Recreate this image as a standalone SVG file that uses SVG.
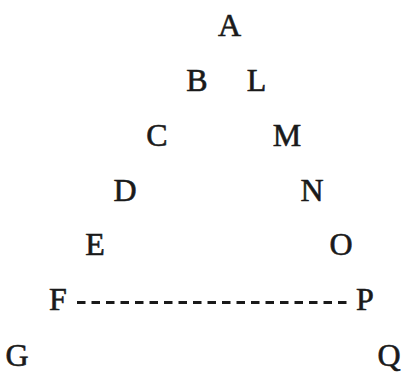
<svg xmlns="http://www.w3.org/2000/svg" width="402" height="372" viewBox="0 0 402 372">
<style>
.l{font-family:"Liberation Serif","Times New Roman",serif;font-size:32px;fill:#1a1a1a;stroke:#1a1a1a;stroke-width:0.6;text-anchor:middle}
.d{stroke:#1a1a1a;stroke-width:2.8;stroke-dasharray:8.5 6;fill:none}
</style>
<rect width="402" height="372" fill="#fff"/>
<g id="connectors"><line class="d" x1="77" y1="302.5" x2="349" y2="302.5"/></g>
<g id="A"><text class="l" x="229.5" y="36">A</text></g>
<g id="B"><text class="l" x="197" y="91">B</text></g>
<g id="L"><text class="l" x="256.5" y="91">L</text></g>
<g id="C"><text class="l" x="157" y="146">C</text></g>
<g id="M"><text class="l" x="287" y="146">M</text></g>
<g id="D"><text class="l" x="125" y="201">D</text></g>
<g id="N"><text class="l" x="312" y="201">N</text></g>
<g id="E"><text class="l" x="95" y="255">E</text></g>
<g id="O"><text class="l" x="341" y="255">O</text></g>
<g id="F"><text class="l" x="58" y="310">F</text></g>
<g id="P"><text class="l" x="365" y="310">P</text></g>
<g id="G"><text class="l" x="17" y="366">G</text></g>
<g id="Q"><text class="l" x="389" y="366">Q</text></g>
</svg>
